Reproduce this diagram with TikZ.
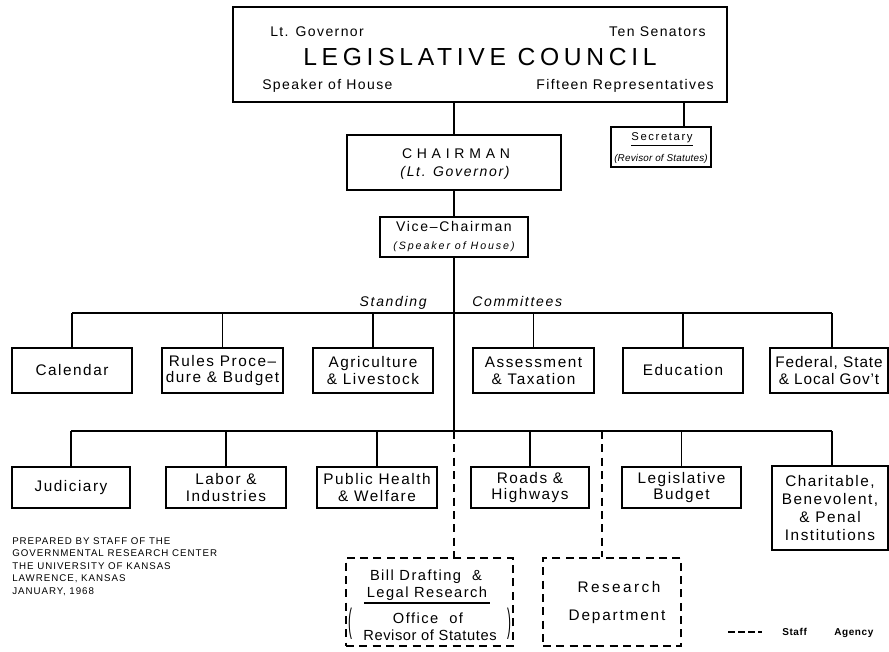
\documentclass[tikz,border=0pt]{standalone}
\usepackage{fontspec}
\setmainfont{Liberation Sans}[LetterSpace=10]
\newcommand\ls[1]{\addfontfeatures{LetterSpace=#1}}
\newcommand\fs[2]{\fontsize{#1}{#2}\selectfont}
\newcommand\bx[7][]{\node[box,minimum width={(#5-#3)*0.75pt},minimum height={(#6-#4)*0.75pt},#1] (#2) at ({(#3+#5)/2},{(#4+#6)/2}) {#7};}
\begin{document}
\begin{tikzpicture}[x=0.75pt,y=-0.75pt,
  box/.style={draw,line width=1.2pt,inner sep=0pt,align=center,font=\fs{11.5}{12.5}},
  heavy/.style={line width=1.6pt},
  lbl/.style={inner sep=0pt,font=\fs{10.5}{12}},
  conn/.style={line width=1.4pt},
  staff/.style={line width=1.2pt,dash pattern=on 6pt off 4pt},
  sbox/.style={box,staff}]
\useasboundingbox (0,0) rectangle (889,652);
% council
\bx[heavy]{council}{233}{7}{727}{102}{}
\node[lbl,anchor=base west] (ltg) at (270,37) {Lt. Governor};
\node[lbl,anchor=base east] (ten) at (706,37) {Ten Senators};
\node[lbl,anchor=base,font=\fs{18.5}{20}\ls{19}] (lc) at (480,66) {LEGISLATIVE COUNCIL};
\node[lbl,anchor=base west] (spk) at (262,90) {Speaker of House};
\node[lbl,anchor=base east] (fif) at (714,90) {Fifteen Representatives};
% chairman
\bx[line width=1.8pt]{chair}{347}{135}{561}{190}{}
\node[lbl,anchor=base,font=\fs{10.5}{12}\ls{34}] (chT) at (456,159) {CHAIRMAN};
\node[lbl,anchor=base,font=\fs{10.5}{12}\itshape\ls{12}] (chS) at (455,177) {(Lt. Governor)};
% secretary
\bx{sec}{611}{127}{711}{167}{}
\node[lbl,anchor=base,font=\fs{8.5}{10}\ls{14}] (secT) at (662,141) {Secretary};
\draw[line width=0.8pt] ([yshift=-3.5pt]secT.base west) -- ([yshift=-3.5pt]secT.base east);
\node[lbl,anchor=base,font=\fs{7.4}{9}\itshape\ls{2}] (secS) at (661,162) {(Revisor of Statutes)};
% vice chairman
\bx{vice}{380}{217}{528}{257}{}
\node[lbl,anchor=base,font=\fs{10.5}{12}\ls{12}] (vT) at (454,232) {Vice--Chairman};
\node[lbl,anchor=base,font=\fs{8}{9}\itshape\ls{18}] (vS) at (454,250) {(Speaker of House)};
% standing committees label
\node[lbl,anchor=base east,font=\fs{10.5}{12}\itshape\ls{12}] (stand) at (427,307) {Standing};
\node[lbl,anchor=base west,font=\fs{10.5}{12}\itshape\ls{12}] (comm) at (472,307) {Committees};
% top row
\bx{cal}{12}{348}{132}{393}{Calendar}
\bx{rules}{162}{348}{283}{393}{Rules Proce--\\dure \& Budget}
\bx{agri}{313}{348}{433}{393}{Agriculture\\\& Livestock}
\bx{assess}{473}{348}{594}{393}{Assessment\\\& Taxation}
\bx{edu}{623}{348}{743}{393}{Education}
\bx{fed}{770}{348}{888}{393}{\ls{6}Federal, State\\\ls{6}\& Local Gov't}
% bottom row
\bx{jud}{12}{467}{130}{508}{Judiciary}
\bx{labor}{166}{467}{286}{508}{Labor \&\\Industries}
\bx{pub}{317}{467}{437}{508}{Public Health\\\& Welfare}
\bx{roads}{471}{467}{589}{508}{Roads \&\\Highways}
\bx{legb}{622}{467}{741}{508}{Legislative\\Budget}
\bx[font=\fs{11.5}{13.5}]{char}{772}{466}{888}{550}{Charitable,\\Benevolent,\\\& Penal\\Institutions}
% staff agencies
\bx[sbox]{bill}{346}{558}{513}{646}{}
\node[lbl,anchor=base,font=\fs{11}{12}\ls{10}] (b1) at (426,580) {Bill Drafting \ \&};
\node[lbl,anchor=base,font=\fs{11}{12}\ls{10}] (b2) at (427,597) {Legal Research};
\draw[line width=0.8pt] ([shift={(-2pt,-4.5pt)}]b2.base west) -- ([shift={(2pt,-4.5pt)}]b2.base east);
\node[lbl,anchor=base,font=\fs{11}{12}\ls{10}] (b3) at (428,623) {Office \ of};
\node[lbl,anchor=base,font=\fs{11}{12}\ls{4}] (b4) at (430,640) {Revisor of Statutes};
\node[inner sep=0pt,font=\fs{11}{12}] (lp) at (350,624) {\scalebox{0.8}[2.3]{(}};
\node[inner sep=0pt,font=\fs{11}{12}] (rp) at (509,624) {\scalebox{0.8}[2.3]{)}};
\bx[sbox]{res}{543}{558}{681}{646}{}
\node[lbl,anchor=base,font=\fs{11.5}{12}\ls{16}] (r1) at (619,592) {Research};
\node[lbl,anchor=base,font=\fs{11.5}{12}\ls{12}] (r2) at (617,620) {Department};
% connectors
\coordinate (busT) at (454,313);
\coordinate (busB) at (454,431);
\draw[conn] (council.south -| chair.north) -- (chair.north);
\draw[conn] (council.south -| 684,0) -- (sec.north -| 684,0);
\draw[conn] (chair.south) -- (vice.north);
\draw[conn] (vice.south) -- (busB);
\draw[conn] (cal.north |- busT) -- (busT -| 832,0);
\foreach \n in {cal,rules,agri,assess,edu} \draw[conn] (\n.north) -- (\n.north |- busT);
\draw[conn] (fed.north -| 832,0) -- (busT -| 832,0);
\draw[conn] (jud.north |- busB) -- (busB -| 832,0);
\foreach \n in {jud,labor,pub,roads,legb} \draw[conn] (\n.north) -- (\n.north |- busB);
\draw[conn] (char.north -| 832,0) -- (busB -| 832,0);
\draw[staff] (busB) -- (bill.north -| busB);
\draw[staff] (busB -| 602,0) -- (res.north -| 602,0);
% prepared by
\node[inner sep=0pt,anchor=north west,align=left,font=\fs{7.3}{9.4}\ls{10}] (prep) at (12,537)
  {PREPARED BY STAFF OF THE\\GOVERNMENTAL RESEARCH CENTER\\THE UNIVERSITY OF KANSAS\\LAWRENCE, KANSAS\\JANUARY, 1968};
% legend
\coordinate (lg1) at (728,632);
\coordinate (lg2) at (762,632);
\draw[line width=1.1pt,dash pattern=on 5pt off 2.5pt] (lg1) -- (lg2);
\node[inner sep=0pt,anchor=base west,font=\fs{7.5}{9}\bfseries\ls{6}] (lgS) at (782,635) {Staff};
\node[inner sep=0pt,anchor=base west,font=\fs{7.5}{9}\bfseries\ls{6}] (lgA) at (834,635) {Agency};
\end{tikzpicture}
\end{document}
